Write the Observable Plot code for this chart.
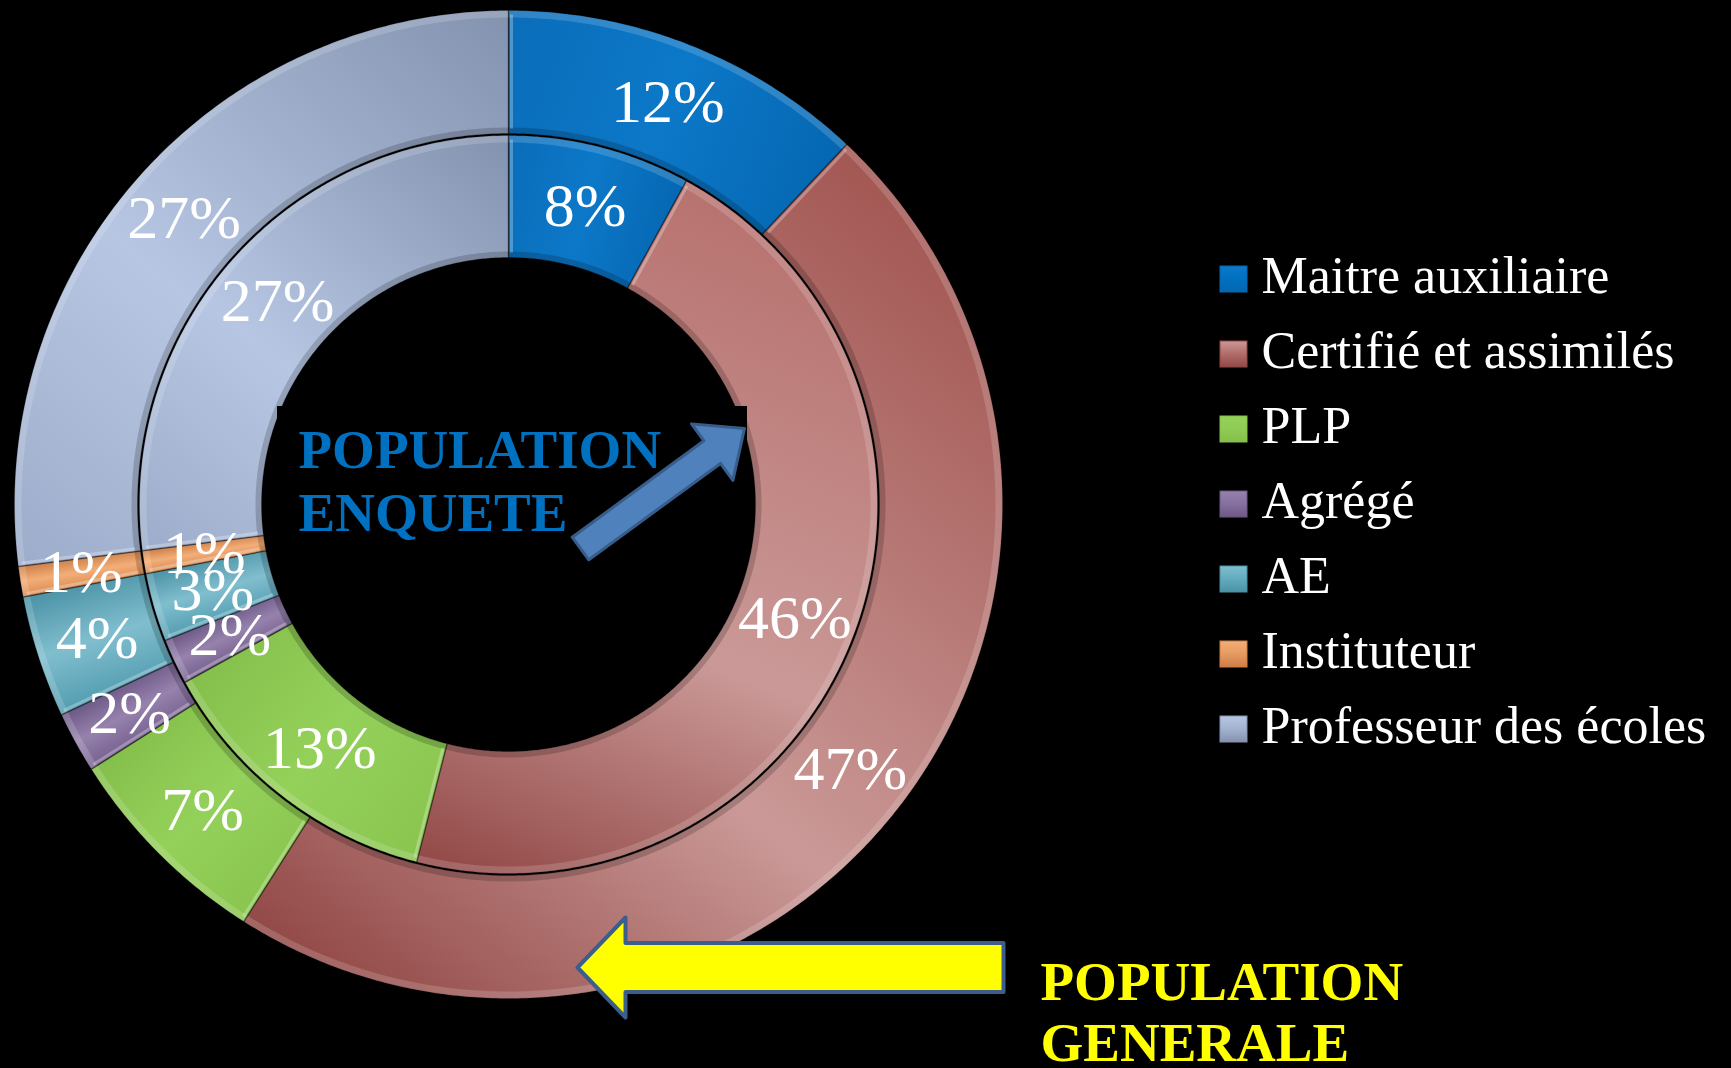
<!DOCTYPE html>
<html>
<head>
<meta charset="utf-8">
<script src="https://cdn.jsdelivr.net/npm/d3@7"></script>
<script src="https://cdn.jsdelivr.net/npm/@observablehq/plot@0.6"></script>
<style>
  html, body { margin: 0; padding: 0; background: #000; overflow: hidden; }
  #chart svg { display: block; }
</style>
</head>
<body>
<svg id="defs" width="0" height="0" style="position:absolute;left:0;top:0"><defs></defs></svg>
<div id="chart"></div>
<script>
// ---------------- DATA ----------------
const categories = ["Maitre auxiliaire", "Certifié et assimilés", "PLP", "Agrégé", "AE", "Instituteur", "Professeur des écoles"];
const populationGenerale = [12, 47, 7, 2, 4, 1, 27];   // outer ring
const populationEnquete  = [8, 46, 13, 2, 3, 1, 27];   // inner ring
const labelGenerale = ["POPULATION", "GENERALE"];
const labelEnquete  = ["POPULATION", "ENQUETE"];

// ---------------- STYLE / LAYOUT ----------------
const W = 1731, H = 1068;
const cx = 508, cy = 504;
const rings = [
  { key: "g", values: populationGenerale, r0: 371, r1: 494 },
  { key: "e", values: populationEnquete,  r0: 247, r1: 369 }
];
const shades = [
  { d0: "#0A6DB9", l: "#0C78C8", d1: "#0567B2", t: 0.5, base: "#0070C0" },
  { d0: "#A35753", l: "#CA9997", d1: "#924947", t: 0.6, base: "#B06C69" },
  { d0: "#89C54F", l: "#94D15A", d1: "#84BF4B", t: 0.5, base: "#8FCB55" },
  { d0: "#76608F", l: "#9682AD", d1: "#6D5885", t: 0.5, base: "#8570A0" },
  { d0: "#529CB0", l: "#80BECE", d1: "#4A92A5", t: 0.5, base: "#62ABBE" },
  { d0: "#D88A52", l: "#F3AE78", d1: "#CD7E47", t: 0.5, base: "#E69A60" },
  { d0: "#9CACCA", l: "#B7C7E3", d1: "#8393AF", t: 0.42, base: "#A3B3CF" }
];
// inner-ring Certifié is lighter at its start
const innerStartOverride = { 1: "#B7726F" };
const pctFont = "Liberation Serif, 'Times New Roman', serif";

const pt = (r, a) => [cx + r * Math.sin(a), cy - r * Math.cos(a)];

// slices derived from values
const slices = [];
rings.forEach((ring, k) => {
  let acc = 0;
  ring.values.forEach((v, i) => {
    const a0 = acc / 100 * 2 * Math.PI;
    acc += v;
    const a1 = acc / 100 * 2 * Math.PI;
    slices.push({ id: ring.key + i, ring: k, i, cat: categories[i], value: v, a0, a1, r0: ring.r0, r1: ring.r1 });
  });
});

function band(id, ra, rb, a0, a1) {
  const n = Math.max(2, Math.ceil((a1 - a0) / (Math.PI / 360)));
  const pts = [];
  for (let j = 0; j <= n; j++) { const t = a0 + (a1 - a0) * j / n; const p = pt(rb, t); pts.push({ id, x: p[0], y: p[1] }); }
  for (let j = n; j >= 0; j--) { const t = a0 + (a1 - a0) * j / n; const p = pt(ra, t); pts.push({ id, x: p[0], y: p[1] }); }
  return pts;
}

// gradients
const defs = d3.select("#defs defs");
slices.forEach(s => {
  const p0 = pt(s.r1, s.a0), p1 = pt(s.r1, s.a1), sh = shades[s.i];
  const d0 = (s.ring === 1 && innerStartOverride[s.i]) || sh.d0;
  const g = defs.append("linearGradient").attr("id", "g" + s.id).attr("gradientUnits", "userSpaceOnUse")
    .attr("x1", p0[0]).attr("y1", p0[1]).attr("x2", p1[0]).attr("y2", p1[1]);
  g.append("stop").attr("offset", 0).attr("stop-color", d0);
  g.append("stop").attr("offset", sh.t).attr("stop-color", sh.l);
  g.append("stop").attr("offset", 1).attr("stop-color", sh.d1);
});
categories.forEach((c, i) => {
  const sh = shades[i];
  const g = defs.append("linearGradient").attr("id", "leg" + i).attr("x1", 0).attr("y1", 0).attr("x2", 0).attr("y2", 1);
  g.append("stop").attr("offset", 0).attr("stop-color", sh.l);
  g.append("stop").attr("offset", 0.5).attr("stop-color", sh.base);
  g.append("stop").attr("offset", 1).attr("stop-color", sh.d1);
});

const fillByID = new Map(slices.map(s => [s.id, `url(#g${s.id})`]));
const mainPolys = slices.flatMap(s => band(s.id, s.r0, s.r1, s.a0, s.a1));
const outerHi = slices.flatMap(s => band(s.id, s.r1 - 7, s.r1, s.a0, s.a1));
const innerSh = slices.flatMap(s => band(s.id, s.r0, s.r0 + 6, s.a0, s.a1));

// edges
const startEdges = slices.map(s => {
  const pa = pt(s.r0 + 5, s.a0 + 3 / (s.r0 + 5)), pb = pt(s.r1 - 4, s.a0 + 3 / (s.r1 - 4));
  return { x1: pa[0], y1: pa[1], x2: pb[0], y2: pb[1] };
});
const endEdges = slices.map(s => {
  const pa = pt(s.r0, s.a1), pb = pt(s.r1, s.a1);
  return { x1: pa[0], y1: pa[1], x2: pb[0], y2: pb[1] };
});

// labels at centroids
const labels = slices.map(s => {
  const rm = (s.r0 + s.r1) / 2, am = (s.a0 + s.a1) / 2, p = pt(rm, am);
  return { x: p[0], y: p[1], text: s.value + "%" };
});

// block arrows (annotation shapes)
function blockArrow(id, tail, tip, hw, hh, hl) {
  const dx = tip[0] - tail[0], dy = tip[1] - tail[1], L = Math.hypot(dx, dy);
  const u = [dx / L, dy / L], n = [-u[1], u[0]];
  const Hc = [tip[0] - u[0] * hl, tip[1] - u[1] * hl];
  const P = (b, s) => ({ id, x: b[0] + n[0] * s, y: b[1] + n[1] * s });
  const pts = [P(tail, hw), P(Hc, hw), P(Hc, hh), { id, x: tip[0], y: tip[1] }, P(Hc, -hh), P(Hc, -hw), P(tail, -hw)];
  pts.push({ ...pts[0] });
  return pts;
}
const blueArrow = blockArrow("b", [580, 548], [744, 428], 14, 35, 40);
const yellowArrow = blockArrow("y", [1003, 967], [577, 967], 24.5, 50, 48);

// legend rows
const legendRows = categories.map((c, i) => ({ c, i, yb: 292 + i * 75 }));

const chart = Plot.plot({
  width: W, height: H,
  margin: 0,
  x: { domain: [0, W], range: [0, W], axis: null },
  y: { domain: [0, H], range: [0, H], axis: null },
  color: { type: "identity" },
  style: { background: "#000", overflow: "visible" },
  marks: [
    Plot.line(mainPolys, { x: "x", y: "y", z: "id", fill: d => fillByID.get(d.id), stroke: "#000", strokeOpacity: 0.25, strokeWidth: 1, curve: "linear" }),
    Plot.line(outerHi, { x: "x", y: "y", z: "id", fill: "#fff", fillOpacity: 0.16, stroke: "none", curve: "linear" }),
    Plot.line(innerSh, { x: "x", y: "y", z: "id", fill: "#000", fillOpacity: 0.18, stroke: "none", curve: "linear" }),
    Plot.link(startEdges, { x1: "x1", y1: "y1", x2: "x2", y2: "y2", stroke: "#fff", strokeOpacity: 0.28, strokeWidth: 3 }),
    Plot.link(endEdges, { x1: "x1", y1: "y1", x2: "x2", y2: "y2", stroke: "#000", strokeOpacity: 0.45, strokeWidth: 1.5 }),
    // text box background for "POPULATION ENQUETE"
    Plot.rect([0], { x1: () => 277, x2: () => 747, y1: () => 406, y2: () => 548, fill: "#000" }),
    Plot.line(blueArrow, { x: "x", y: "y", z: "id", fill: "#4F81BD", stroke: "#385D8A", strokeWidth: 3, curve: "linear" }),
    Plot.line(yellowArrow, { x: "x", y: "y", z: "id", fill: "#FFFF00", stroke: "#3B5E8C", strokeWidth: 4, curve: "linear" }),
    Plot.text(labels, { x: "x", y: "y", text: "text", fill: "#fff", fontSize: 62, fontFamily: pctFont, textAnchor: "middle", lineAnchor: "middle" }),
    Plot.text(labelEnquete, { x: () => 298, y: (d, i) => 467 + i * 63, text: d => d, fill: "#0070C0", fontSize: 55, fontWeight: "bold", fontFamily: pctFont, textAnchor: "start", lineAnchor: "bottom" }),
    Plot.text(labelGenerale, { x: () => 1040, y: (d, i) => 999 + i * 61, text: d => d, fill: "#FFFF00", fontSize: 55, fontWeight: "bold", fontFamily: pctFont, textAnchor: "start", lineAnchor: "bottom" }),
    // legend
    Plot.rect(legendRows, { x1: () => 1220, x2: () => 1247, y1: d => d.yb - 26, y2: d => d.yb, fill: d => `url(#leg${d.i})`, stroke: d => shades[d.i].d1, strokeWidth: 1 }),
    Plot.text(legendRows, { x: () => 1261, y: "yb", text: "c", fill: "#fff", fontSize: 52, fontFamily: pctFont, textAnchor: "start", lineAnchor: "bottom" })
  ]
});
document.getElementById("chart").appendChild(chart);
</script>
</body>
</html>
